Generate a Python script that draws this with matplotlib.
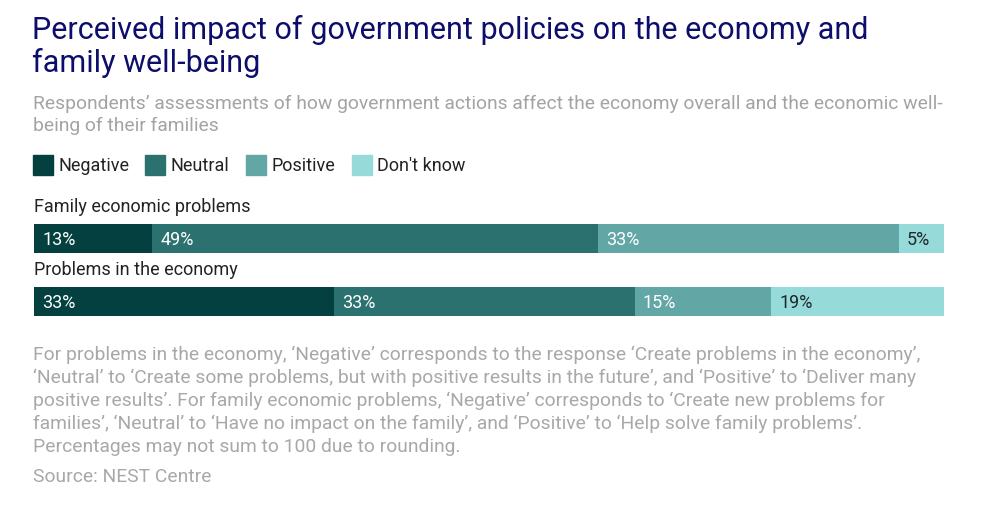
import matplotlib
matplotlib.use("Agg")
import matplotlib.pyplot as plt
from matplotlib.patches import Rectangle

plt.rcParams['font.family'] = ['Roboto', 'DejaVu Sans']

categories = ['Family economic problems', 'Problems in the economy']
series = ['Negative', 'Neutral', 'Positive', "Don't know"]
values = {
    'Negative': [13, 33],
    'Neutral': [49, 33],
    'Positive': [33, 15],
    "Don't know": [5, 19],
}
colors = ['#03403f', '#2b7170', '#62a6a6', '#97dada']
text_colors = ['white', 'white', 'white', '#1f2a2a']

title = ('Perceived impact of government policies on the economy and\n'
         'family well-being')
subtitle = ('Respondents\u2019 assessments of how government actions affect the economy overall and the economic well-\n'
            'being of their families')
note = ('For problems in the economy, \u2018Negative\u2019 corresponds to the response \u2018Create problems in the economy\u2019,\n'
        '\u2018Neutral\u2019 to \u2018Create some problems, but with positive results in the future\u2019, and \u2018Positive\u2019 to \u2018Deliver many\n'
        'positive results\u2019. For family economic problems, \u2018Negative\u2019 corresponds to \u2018Create new problems for\n'
        'families\u2019, \u2018Neutral\u2019 to \u2018Have no impact on the family\u2019, and \u2018Positive\u2019 to \u2018Help solve family problems\u2019.\n'
        'Percentages may not sum to 100 due to rounding.')
source = 'Source: NEST Centre'

W, H = 988, 512
fig = plt.figure(figsize=(W / 100, H / 100), dpi=100)
fig.patch.set_facecolor('white')


def fx(px):
    return px / W


def fy(py):
    return 1 - py / H


fig.text(fx(32), fy(72), title, fontsize=22, color='#0d0d6b',
         va='baseline', ha='left', linespacing=1.12)
fig.text(fx(33), fy(131), subtitle, fontsize=13.9, color='#a3a3a3',
         va='baseline', ha='left', linespacing=1.27)

# legend
leg_x = [33, 145, 246, 352]
for s, c, x in zip(series, colors, leg_x):
    fig.patches.append(Rectangle((fx(x), fy(175)), 20 / W, 20 / H,
                                 transform=fig.transFigure, color=c))
    fig.text(fx(x + 25), fy(171), s, fontsize=13, color='#222222',
             va='baseline', ha='left')

# bars
ax = fig.add_axes([fx(34), fy(316), (944 - 34) / W, (316 - 224) / H])
ax.set_xlim(0, 100)
ax.set_ylim(1.23, -0.23)
ax.axis('off')
for i, cat in enumerate(categories):
    left = 0
    for s, c, tc in zip(series, colors, text_colors):
        v = values[s][i]
        ax.barh(i, v, left=left, height=0.46, color=c, linewidth=0)
        ax.text(left + 0.9, i + 0.02, f'{v}%', color=tc, fontsize=13,
                va='center', ha='left')
        left += v
    ax.text(0, i - 0.42, cat, fontsize=13, color='#222222',
            va='baseline', ha='left', clip_on=False)

fig.text(fx(33), fy(452), note, fontsize=13.9, color='#a8a8a8',
         va='baseline', ha='left', linespacing=1.33)
fig.text(fx(33), fy(482), source, fontsize=13.9, color='#a8a8a8',
         va='baseline', ha='left')

fig.savefig('out.png', dpi=100)
